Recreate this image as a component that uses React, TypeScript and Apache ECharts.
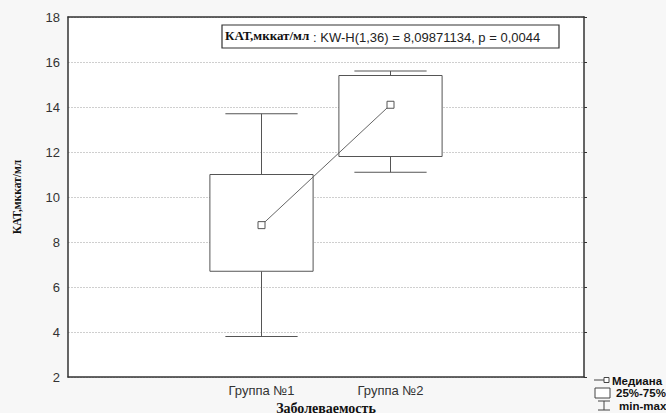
import React, { useEffect, useRef } from "react";
import * as echarts from "echarts";

const categories = ["", "Группа №1", "Группа №2", ""];
// [categoryIndex, min, q1, median, q3, max]
const boxData = [
  [1, 3.8, 6.7, 8.75, 11.0, 13.7],
  [2, 11.1, 11.8, 14.1, 15.4, 15.6],
];
const medians = ["-", 8.75, 14.1, "-"];
const yTicks = { min: 2, max: 18, interval: 2 };
const yName = "КАТ,мккат/мл";
const xName = "Заболеваемость";
const statLabel = "КАТ,мккат/мл";
const statText = ": KW-H(1,36) = 8,09871134, p = 0,0044";
const legendLabels = ["Медиана", "25%-75%", "min-max"];

export default function App() {
  const ref = useRef<HTMLDivElement>(null);
  useEffect(() => {
    if (!ref.current) return;
    const chart = echarts.init(ref.current, null, { renderer: "svg" });
    const lineColor = "#555";
    chart.setOption({
      animation: false,
      backgroundColor: "#f7f7f7",
      grid: {
        left: 68,
        right: 82,
        top: 17,
        bottom: 36,
        show: true,
        backgroundColor: "#ffffff",
        borderWidth: 0,
        containLabel: false,
        outerBoundsMode: "none",
      },
      xAxis: [
        {
          type: "category",
          data: categories,
          position: "bottom",
          name: xName,
          nameLocation: "middle",
          nameGap: 19,
          nameTextStyle: {
            fontFamily: "Liberation Serif",
            fontWeight: "bold",
            fontSize: 14,
            color: "#111",
          },
          axisLine: { lineStyle: { color: "#333", width: 1.5 } },
          axisTick: { alignWithLabel: true, inside: true, length: 3, lineStyle: { color: "#333" } },
          axisLabel: { fontFamily: "Liberation Sans", fontSize: 13, color: "#333", margin: 7 },
          splitLine: { show: false },
        },
        {
          type: "category",
          data: categories,
          position: "top",
          axisLine: { lineStyle: { color: "#333", width: 1.5 } },
          axisTick: { alignWithLabel: true, inside: true, length: 3, lineStyle: { color: "#333" } },
          axisLabel: { show: false },
        },
      ],
      yAxis: [
        {
          type: "value",
          min: yTicks.min,
          max: yTicks.max,
          interval: yTicks.interval,
          name: yName,
          nameLocation: "middle",
          nameGap: 45,
          nameTextStyle: {
            fontFamily: "Liberation Serif",
            fontWeight: "bold",
            fontSize: 11.5,
            color: "#111",
          },
          axisLine: { show: true, lineStyle: { color: "#333", width: 1.5 } },
          axisTick: { show: false },
          axisLabel: { fontFamily: "Liberation Sans", fontSize: 13, color: "#333", margin: 8 },
          splitLine: { show: true, lineStyle: { color: "#cfcfcf", type: [2, 1], width: 1 } },
        },
        {
          type: "value",
          min: yTicks.min,
          max: yTicks.max,
          interval: yTicks.interval,
          position: "right",
          axisLine: { show: true, lineStyle: { color: "#333", width: 1.5 } },
          axisTick: { show: true, inside: false, length: 3, lineStyle: { color: "#333" } },
          axisLabel: { show: false },
          splitLine: { show: false },
        },
      ],
      series: [
        {
          type: "custom",
          xAxisIndex: 0,
          yAxisIndex: 0,
          data: boxData,
          z: 3,
          renderItem: (params: any, api: any) => {
            const xi = api.value(0);
            const mn = api.coord([xi, api.value(1)]);
            const q1 = api.coord([xi, api.value(2)]);
            const q3 = api.coord([xi, api.value(4)]);
            const mx = api.coord([xi, api.value(5)]);
            const band = api.size([1, 0])[0];
            const bw = band * 0.8;
            const cw = band * 0.56;
            const cx = mn[0];
            const st = { stroke: lineColor, lineWidth: 1, fill: null };
            return {
              type: "group",
              children: [
                { type: "line", shape: { x1: cx, y1: q3[1], x2: cx, y2: mx[1] }, style: st },
                { type: "line", shape: { x1: cx, y1: q1[1], x2: cx, y2: mn[1] }, style: st },
                { type: "line", shape: { x1: cx - cw / 2, y1: mx[1], x2: cx + cw / 2, y2: mx[1] }, style: st },
                { type: "line", shape: { x1: cx - cw / 2, y1: mn[1], x2: cx + cw / 2, y2: mn[1] }, style: st },
                {
                  type: "rect",
                  shape: { x: cx - bw / 2, y: q3[1], width: bw, height: q1[1] - q3[1] },
                  style: { stroke: lineColor, lineWidth: 1, fill: "#ffffff" },
                },
              ],
            };
          },
        },
        {
          type: "line",
          xAxisIndex: 0,
          yAxisIndex: 0,
          data: medians,
          z: 5,
          symbol: "rect",
          symbolSize: 7,
          showAllSymbol: true,
          connectNulls: false,
          lineStyle: { color: "#666", width: 1 },
          itemStyle: { color: "#ffffff", borderColor: lineColor, borderWidth: 1 },
        },
      ],
      graphic: [
        {
          type: "rect",
          shape: { x: 222, y: 25, width: 337, height: 23 },
          style: { fill: "#ffffff", stroke: "#333", lineWidth: 1.2 },
          z: 10,
        },
        {
          type: "text",
          x: 225,
          y: 35,
          z: 11,
          style: {
            text: statLabel,
            fontFamily: "Liberation Serif",
            fontWeight: "bold",
            fontSize: 13,
            fill: "#111",
            verticalAlign: "middle",
          },
        },
        {
          type: "text",
          x: 313,
          y: 37,
          z: 11,
          style: {
            text: statText,
            fontFamily: "Liberation Sans",
            fontSize: 13,
            fill: "#222",
            verticalAlign: "middle",
          },
        },
        // legend: median
        { type: "line", shape: { x1: 594, y1: 380, x2: 608, y2: 380 }, style: { stroke: "#444", lineWidth: 1 } },
        { type: "rect", shape: { x: 604, y: 377.5, width: 5, height: 5 }, style: { fill: "#fff", stroke: "#444", lineWidth: 1 } },
        {
          type: "text",
          x: 612,
          y: 381,
          style: { text: legendLabels[0], fontFamily: "Liberation Sans", fontWeight: "bold", fontSize: 11.5, fill: "#111", verticalAlign: "middle" },
        },
        // legend: box
        { type: "rect", shape: { x: 595, y: 388, width: 15, height: 10 }, style: { fill: "#fff", stroke: "#444", lineWidth: 1 } },
        {
          type: "text",
          x: 616,
          y: 393,
          style: { text: legendLabels[1], fontFamily: "Liberation Sans", fontWeight: "bold", fontSize: 11.5, fill: "#111", verticalAlign: "middle" },
        },
        // legend: whisker
        { type: "line", shape: { x1: 598, y1: 401, x2: 610, y2: 401 }, style: { stroke: "#444", lineWidth: 1 } },
        { type: "line", shape: { x1: 604, y1: 401, x2: 604, y2: 410 }, style: { stroke: "#444", lineWidth: 1 } },
        { type: "line", shape: { x1: 598, y1: 410, x2: 610, y2: 410 }, style: { stroke: "#444", lineWidth: 1 } },
        {
          type: "text",
          x: 619,
          y: 406,
          style: { text: legendLabels[2], fontFamily: "Liberation Sans", fontWeight: "bold", fontSize: 11.5, fill: "#111", verticalAlign: "middle" },
        },
      ],
    });
    return () => chart.dispose();
  }, []);
  return (
    <div
      ref={ref}
      style={{ position: "fixed", left: 0, top: 0, width: 666, height: 413 }}
    />
  );
}
